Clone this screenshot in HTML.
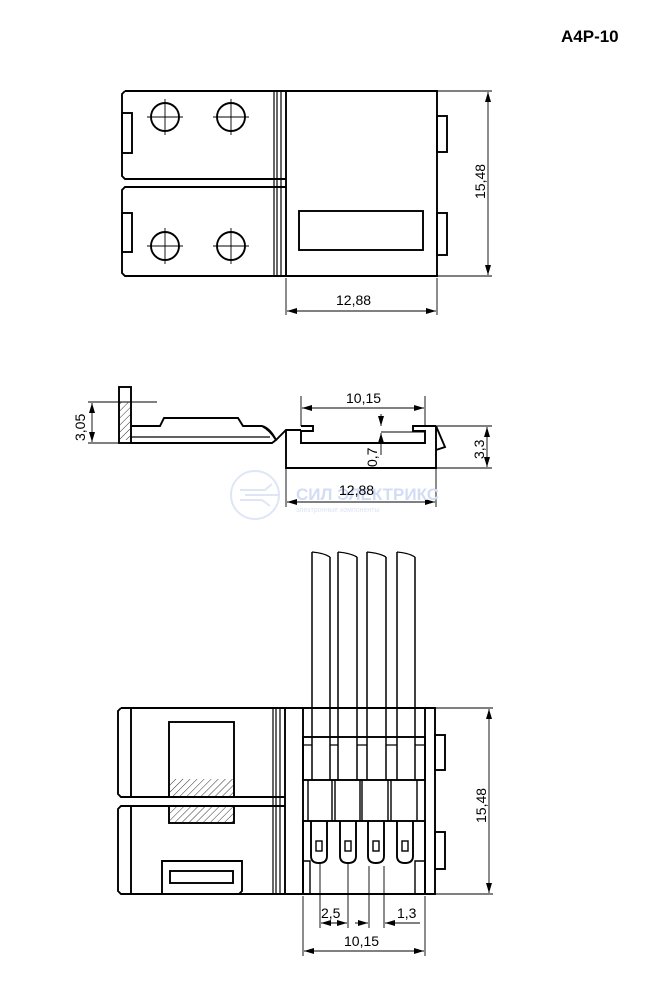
<!DOCTYPE html>
<html><head><meta charset="utf-8"><style>
html,body{margin:0;padding:0;background:#fff;}
svg{display:block;}
text{font-family:"Liberation Sans",Arial,sans-serif;font-size:14px;fill:#000;}
</style></head><body>
<svg width="654" height="1000" viewBox="0 0 654 1000" xmlns="http://www.w3.org/2000/svg">
<defs>
<pattern id="h" width="5" height="5" patternUnits="userSpaceOnUse" patternTransform="rotate(45)">
<line x1="0" y1="0" x2="0" y2="5" stroke="#000" stroke-width="0.8"/></pattern>
<marker id="a" viewBox="0 0 10 6" refX="10" refY="3" markerWidth="11" markerHeight="6" orient="auto-start-reverse" markerUnits="userSpaceOnUse">
<path d="M0,0 L10,3 L0,6 z" fill="#000"/></marker>
</defs>
<text x="561" y="42" style="font-size:17px;font-weight:bold">A4P-10</text>

<g fill="none" stroke="#000" stroke-width="1.9">
<!-- TOP VIEW -->
<path d="M125,91 H437 V276 H125 L122,273 V190 L125,187 H286"/>
<path d="M286,179 H125 L122,176 V94 L125,91"/>
<line x1="274" y1="91" x2="274" y2="276" stroke-width="1.2"/>
<line x1="277" y1="91" x2="277" y2="276" stroke-width="1.2"/>
<line x1="281" y1="91" x2="281" y2="276" stroke-width="1.2"/>
<line x1="286" y1="91" x2="286" y2="276"/>
<rect x="122" y="113" width="10" height="40"/>
<rect x="122" y="213" width="10" height="39"/>
<rect x="437" y="116" width="10" height="36"/>
<rect x="437" y="213" width="10" height="42"/>
<rect x="299" y="211" width="124" height="39"/>
<circle cx="165" cy="117" r="14"/><circle cx="231" cy="117" r="14"/>
<circle cx="165" cy="246" r="14"/><circle cx="231" cy="246" r="14"/>
</g>
<g stroke="#000" stroke-width="0.9">
<path d="M147,117 H183 M165,99 V135 M213,117 H249 M231,99 V135 M147,246 H183 M165,228 V264 M213,246 H249 M231,228 V264"/>
<path d="M437,91 H492 M437,276 H492 M286,278 V315 M437,278 V315"/>
<line x1="488" y1="92" x2="488" y2="275" marker-start="url(#a)" marker-end="url(#a)"/>
<line x1="287" y1="311" x2="436" y2="311" marker-start="url(#a)" marker-end="url(#a)"/>
</g>
<text x="336" y="305">12,88</text>
<text transform="translate(485,199) rotate(-90)">15,48</text>

<!-- SIDE VIEW -->
<g fill="none" stroke="#000" stroke-width="1.9">
<rect x="119" y="387" width="12" height="56"/>
<path d="M131,426 H160 L164,418 H238 L243,426 H262 Q270,428 276,440 L272,443 H131"/>
<path d="M131,437 H270" stroke-width="1.2"/>
<path d="M262,426 Q270,430 276,440 M276,440 L286,430 H301"/>
<path d="M301,426 H313 V431 H301 V443 H425 V431 H413 V426 H436 M286,430 V468 H436 V426 L445,447 L436,450"/>
</g>
<rect x="119" y="402" width="12" height="38" fill="url(#h)" stroke="none"/>
<g stroke="#000" stroke-width="0.9" fill="none">
<path d="M88,402 H157 M88,443 H119 M301,396 V426 M425,396 V426 M436,426 H492 M436,468 H492 M286,468 V507 M436,468 V507 M381,432 H425"/>
<line x1="92" y1="403" x2="92" y2="442" marker-start="url(#a)" marker-end="url(#a)"/>
<line x1="302" y1="408" x2="424" y2="408" marker-start="url(#a)" marker-end="url(#a)"/>
<line x1="381" y1="414" x2="381" y2="426" marker-end="url(#a)"/>
<line x1="381" y1="455" x2="381" y2="433" marker-end="url(#a)"/>
<line x1="487" y1="427" x2="487" y2="467" marker-start="url(#a)" marker-end="url(#a)"/>
<line x1="287" y1="502" x2="435" y2="502" marker-start="url(#a)" marker-end="url(#a)"/>
</g>
<text x="346" y="403">10,15</text>
<text transform="translate(85,441) rotate(-90)">3,05</text>
<text transform="translate(377,467) rotate(-90)">0,7</text>
<text transform="translate(484,459) rotate(-90)">3,3</text>
<!-- watermark -->
<g opacity="0.22" fill="none" stroke="#6f8fd8" stroke-width="2">
<circle cx="255" cy="495" r="24"/>
<path d="M240,490 H265 L272,484 M240,500 H262 L270,506 M245,495 H278"/>
</g>
<text x="296" y="500" style="font-size:17px;font-weight:bold;fill:#d2dcf4">СИЛ ЭЛЕКТРИКС</text>
<text x="296" y="512" style="font-size:7px;fill:#dde3f4">электронные компоненты</text>
<text x="339" y="495">12,88</text>

<!-- BOTTOM VIEW -->
<g fill="none" stroke="#000" stroke-width="1.9">
<path d="M121,708 H435 V894 H121 L118,891 V809 L121,806 H285"/>
<path d="M285,797 H121 L118,794 V711 L121,708"/>
<line x1="131" y1="708" x2="131" y2="797"/>
<line x1="131" y1="806" x2="131" y2="894"/>
<line x1="273" y1="708" x2="273" y2="894" stroke-width="1.2"/>
<line x1="276" y1="708" x2="276" y2="894" stroke-width="1.2"/>
<line x1="280" y1="708" x2="280" y2="894" stroke-width="1.2"/>
<line x1="285" y1="708" x2="285" y2="894"/>
<line x1="303" y1="708" x2="303" y2="894"/>
<line x1="425" y1="708" x2="425" y2="894"/>
<rect x="169" y="722" width="65" height="75"/>
<rect x="169" y="806" width="65" height="17"/>
<path d="M162,894 V861 H242 V891 L239,894"/>
<rect x="170" y="871" width="63" height="12"/>
<rect x="435" y="735" width="10" height="35"/>
<rect x="435" y="832" width="10" height="37"/>
<path d="M312,552 V780 M330,557 V780 M338,552 V780 M357,557 V780 M367,552 V780 M386,557 V780 M397,552 V780 M415,557 V780" stroke-width="1.5"/>
<path d="M312,552 Q324,553 330,557 M338,552 Q350,553 357,557 M367,552 Q379,553 386,557 M397,552 Q409,553 415,557" stroke-width="1.3"/>
<rect x="303" y="737" width="122" height="43"/>
<path d="M303,745 H312 M415,745 H425 M330,745 H338 M357,745 H367 M386,745 H397" stroke-width="1.2"/>
<path d="M308,780 V821 M332,780 V821 M335,780 V821 M360,780 V821 M362,780 V821 M388,780 V821 M391,780 V821 M417,780 V821" stroke-width="1.4"/>
<rect x="303" y="821" width="122" height="73"/>
<path d="M303,861 H310 V894 M425,861 H415 V894" stroke-width="1.4"/>
<path d="M311,821 V856 Q311,863 319,863 Q327,863 327,856 V821"/>
<path d="M340,821 V856 Q340,863 348,863 Q356,863 356,856 V821"/>
<path d="M368,821 V856 Q368,863 376,863 Q384,863 384,856 V821"/>
<path d="M397,821 V856 Q397,863 405,863 Q413,863 413,856 V821"/>
<rect x="316" y="841" width="6" height="10" stroke-width="1.4"/>
<rect x="345" y="841" width="6" height="10" stroke-width="1.4"/>
<rect x="373" y="841" width="6" height="10" stroke-width="1.4"/>
<rect x="402" y="841" width="6" height="10" stroke-width="1.4"/>
</g>
<rect x="170" y="779" width="63" height="18" fill="url(#h)" stroke="none"/>
<rect x="170" y="807" width="63" height="15" fill="url(#h)" stroke="none"/>
<g stroke="#000" stroke-width="0.9" fill="none">
<path d="M435,708 H493 M435,894 H493 M303,896 V956 M425,896 V956 M320,863 V928 M348,863 V928 M369,866 V928 M384,866 V928"/>
<line x1="489" y1="709" x2="489" y2="893" marker-start="url(#a)" marker-end="url(#a)"/>
<line x1="321" y1="923" x2="347" y2="923" marker-start="url(#a)" marker-end="url(#a)"/>
<line x1="355" y1="923" x2="368" y2="923" marker-end="url(#a)"/>
<line x1="420" y1="923" x2="385" y2="923" marker-end="url(#a)"/>
<line x1="304" y1="951" x2="424" y2="951" marker-start="url(#a)" marker-end="url(#a)"/>
</g>
<text x="321" y="918">2,5</text>
<text x="397" y="918">1,3</text>
<text x="344" y="946">10,15</text>
<text transform="translate(486,823) rotate(-90)">15,48</text>
</svg>
</body></html>
